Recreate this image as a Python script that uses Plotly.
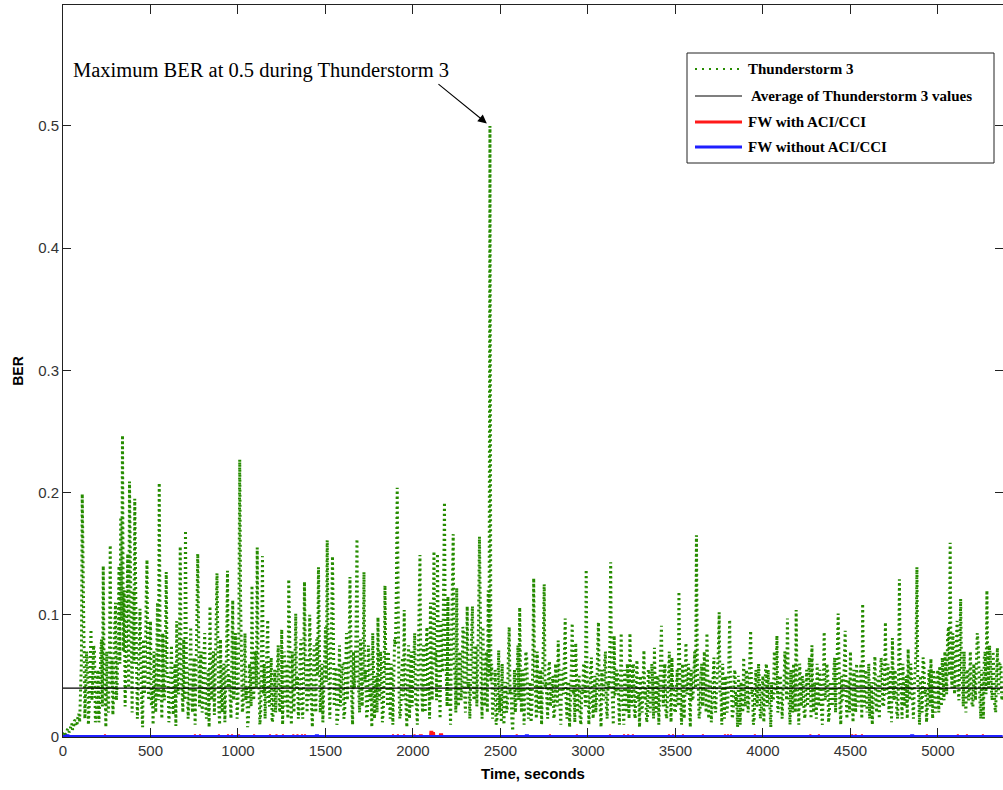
import plotly.graph_objects as go

# ---------------------------------------------------------------------------
# Data
# ---------------------------------------------------------------------------
# Thunderstorm 3 BER, one sample every 5 s, stored in units of 1e-3
time_step_s = 5
thunderstorm3_ber_milli = [
    2, 3, 4, 2, 3, 6, 7, 4, 5, 9, 11, 6, 8, 13, 14, 9, 10, 16, 19, 12,
    30, 60, 199, 120, 85, 15, 40, 70, 62, 10, 25, 55, 88, 30, 45, 75, 70, 12, 20, 50,
    55, 12, 30, 65, 80, 25, 140, 50, 40, 8, 70, 35, 20, 60, 157, 40, 65, 18, 35, 90,
    110, 30, 45, 85, 140, 60, 180, 95, 247, 70, 120, 25, 55, 100, 150, 40, 209, 130, 70, 20,
    120, 60, 195, 90, 60, 15, 35, 70, 105, 40, 25, 8, 80, 35, 50, 110, 145, 45, 30, 75,
    95, 25, 40, 10, 70, 45, 20, 60, 110, 30, 208, 75, 45, 15, 85, 35, 30, 65, 135, 50,
    50, 12, 25, 55, 75, 30, 18, 45, 60, 9, 95, 40, 35, 70, 156, 55, 40, 20, 80, 30,
    169, 60, 55, 15, 30, 75, 90, 35, 20, 50, 65, 10, 40, 95, 150, 45, 25, 60, 70, 20,
    35, 65, 85, 25, 15, 40, 55, 8, 107, 45, 30, 60, 70, 18, 45, 90, 134, 50, 25, 10,
    80, 35, 20, 55, 60, 12, 35, 75, 136, 40, 50, 20, 15, 65, 112, 30, 40, 85, 70, 15,
    30, 90, 227, 110, 60, 20, 25, 50, 85, 30, 40, 8, 15, 60, 55, 25, 124, 45, 30, 70,
    70, 40, 155, 55, 45, 10, 20, 80, 148, 35, 60, 15, 35, 70, 96, 30, 25, 50, 65, 12,
    15, 40, 55, 20, 35, 60, 75, 25, 20, 45, 88, 10, 45, 70, 25, 35, 60, 15, 129, 55,
    40, 10, 70, 35, 20, 55, 101, 40, 50, 15, 30, 65, 80, 25, 15, 45, 127, 60, 45, 20,
    65, 30, 100, 45, 25, 8, 55, 75, 35, 20, 80, 50, 139, 60, 20, 35, 60, 12, 40, 70,
    90, 45, 161, 70, 35, 15, 70, 95, 148, 40, 25, 55, 55, 10, 15, 35, 75, 25, 40, 60,
    60, 15, 20, 45, 85, 30, 45, 70, 131, 50, 30, 10, 70, 40, 50, 90, 162, 55, 35, 20,
    80, 40, 25, 60, 135, 45, 55, 15, 20, 75, 65, 30, 40, 8, 85, 50, 15, 35, 50, 20,
    98, 40, 30, 70, 60, 12, 20, 45, 124, 55, 45, 25, 70, 35, 15, 60, 55, 10, 35, 80,
    75, 120, 204, 60, 40, 15, 20, 50, 65, 30, 104, 45, 30, 8, 55, 75, 15, 40, 70, 25,
    40, 65, 85, 30, 25, 10, 60, 100, 149, 55, 35, 20, 75, 45, 20, 70, 90, 35, 45, 15,
    110, 50, 30, 85, 152, 60, 70, 30, 150, 75, 40, 15, 95, 55, 55, 120, 192, 80, 60, 25,
    115, 45, 35, 10, 80, 120, 166, 60, 50, 20, 122, 45, 25, 65, 70, 30, 40, 90, 85, 35,
    20, 55, 107, 40, 45, 15, 65, 85, 107, 35, 30, 60, 75, 25, 50, 95, 164, 60, 40, 15,
    90, 40, 25, 55, 70, 20, 120, 50, 500, 45, 60, 15, 30, 40, 55, 10, 15, 35, 71, 20,
    35, 12, 60, 30, 10, 40, 45, 20, 25, 65, 90, 35, 40, 15, 5, 30, 55, 20, 30, 50,
    75, 30, 106, 45, 20, 55, 50, 10, 35, 70, 65, 25, 15, 40, 45, 12, 25, 60, 130, 50,
    40, 15, 70, 35, 20, 50, 55, 10, 35, 75, 125, 40, 45, 20, 15, 55, 62, 25, 30, 45,
    50, 15, 20, 60, 40, 25, 79, 35, 25, 10, 55, 40, 35, 65, 97, 30, 15, 45, 45, 8,
    30, 55, 93, 35, 40, 12, 77, 30, 20, 45, 50, 15, 10, 40, 35, 60, 60, 25, 137, 45,
    45, 10, 25, 55, 65, 30, 15, 40, 50, 20, 35, 70, 94, 40, 20, 8, 55, 35, 30, 60,
    70, 25, 15, 45, 40, 75, 143, 50, 25, 10, 83, 35, 35, 55, 50, 20, 10, 40, 85, 30,
    30, 10, 55, 35, 20, 60, 45, 15, 85, 40, 25, 55, 60, 20, 15, 45, 63, 30, 35, 8,
    50, 25, 20, 45, 71, 30, 40, 12, 15, 55, 55, 20, 30, 60, 45, 15, 73, 35, 20, 50,
    50, 10, 35, 60, 91, 40, 25, 50, 60, 20, 15, 35, 45, 70, 30, 12, 65, 40, 40, 20,
    20, 45, 55, 25, 119, 50, 35, 10, 60, 30, 15, 40, 77, 35, 40, 60, 25, 8, 55, 30,
    30, 55, 70, 40, 165, 60, 45, 15, 20, 50, 60, 25, 35, 70, 50, 20, 85, 35, 15, 45,
    45, 12, 30, 55, 65, 25, 20, 40, 55, 70, 102, 35, 35, 10, 60, 30, 15, 50, 45, 20,
    30, 60, 96, 40, 40, 15, 20, 50, 55, 25, 35, 8, 50, 35, 10, 45, 40, 20, 65, 30,
    25, 55, 50, 20, 30, 65, 87, 35, 40, 10, 15, 45, 55, 25, 30, 60, 45, 15, 20, 40,
    50, 12, 35, 55, 60, 25, 55, 40, 20, 8, 45, 30, 30, 70, 65, 35, 83, 20, 25, 50,
    50, 25, 15, 40, 40, 70, 60, 30, 97, 45, 30, 10, 55, 35, 20, 60, 45, 20, 104, 40,
    35, 10, 60, 30, 25, 50, 45, 20, 15, 40, 55, 25, 35, 65, 50, 15, 75, 35, 20, 45,
    40, 15, 60, 35, 25, 55, 45, 20, 10, 40, 86, 30, 35, 60, 55, 12, 20, 45, 45, 25,
    30, 55, 65, 20, 40, 70, 101, 40, 25, 10, 50, 30, 35, 60, 87, 35, 15, 45, 45, 20,
    70, 35, 30, 12, 55, 40, 20, 60, 45, 25, 35, 50, 60, 15, 109, 45, 25, 55, 50, 20,
    35, 60, 15, 40, 45, 10, 30, 55, 66, 30, 20, 45, 50, 15, 35, 65, 60, 25, 25, 45,
    94, 35, 40, 60, 20, 45, 55, 12, 81, 40, 30, 55, 45, 20, 15, 50, 129, 40, 40, 15,
    60, 30, 25, 45, 50, 15, 72, 40, 30, 60, 45, 20, 15, 40, 55, 70, 139, 45, 35, 10,
    50, 30, 20, 65, 60, 35, 40, 12, 25, 45, 55, 25, 64, 40, 15, 55, 45, 20, 30, 50,
    55, 20, 58, 40, 25, 65, 45, 30, 70, 45, 35, 80, 90, 50, 159, 60, 40, 85, 75, 35,
    55, 80, 95, 40, 30, 65, 113, 50, 45, 25, 70, 40, 20, 55, 55, 30, 35, 70, 50, 25,
    25, 60, 45, 30, 60, 85, 77, 40, 30, 15, 55, 45, 15, 65, 70, 35, 120, 55, 40, 75,
    65, 40, 30, 70, 55, 25, 20, 50, 73, 35, 45, 60, 60, 30, 35,
]
average_ber = 0.040

# Fixed-wireless link BER: zero except for short isolated error bursts
fw_aci_burst_times = [240, 754, 783, 891, 943, 966, 1006, 1092, 1183, 1220,
                      1257, 1316, 1340, 1366, 1383, 1886, 1914, 1949, 2009,
                      2040, 2050, 2100, 2110, 2120, 2155, 2166, 2593, 2783,
                      2937, 3126, 3206, 3230, 3257, 3463, 3486, 3543, 3657,
                      3783, 3800, 3817, 3954, 4271, 4320, 4510, 4530, 4566,
                      4937, 5114, 5166, 5257]
fw_aci_burst_ber = [0.002, 0.002, 0.002, 0.002, 0.002, 0.002, 0.002, 0.002,
                    0.002, 0.002, 0.002, 0.002, 0.002, 0.002, 0.002, 0.002,
                    0.002, 0.002, 0.002, 0.002, 0.002, 0.005, 0.005, 0.004,
                    0.003, 0.003, 0.002, 0.002, 0.002, 0.002, 0.002, 0.002,
                    0.002, 0.002, 0.002, 0.002, 0.002, 0.002, 0.002, 0.002,
                    0.002, 0.002, 0.002, 0.002, 0.002, 0.002, 0.002, 0.002,
                    0.002, 0.002]
fw_noaci_burst_times = [25, 1451, 2651, 4853]
fw_noaci_burst_ber = [0.002, 0.002, 0.002, 0.002]

series_names = ["Thunderstorm 3", " Average of Thunderstorm 3 values",
                "FW with ACI/CCI", "FW without ACI/CCI"]
x_tick_values = [0, 500, 1000, 1500, 2000, 2500, 3000, 3500, 4000, 4500, 5000]
y_tick_values = [0, 0.1, 0.2, 0.3, 0.4, 0.5]

# ---------------------------------------------------------------------------
# Derived series
# ---------------------------------------------------------------------------
time_s = [i * time_step_s for i in range(len(thunderstorm3_ber_milli))]
thunderstorm3_ber = [v / 1000 for v in thunderstorm3_ber_milli]
t_end = time_s[-1]


def burst_series(times, values, half_width=3):
    xs, ys = [0], [0.0]
    for t, v in zip(times, values):
        xs += [t - half_width, t, t + half_width]
        ys += [0.0, v, 0.0]
    xs.append(t_end)
    ys.append(0.0)
    return xs, ys


red_x, red_y = burst_series(fw_aci_burst_times, fw_aci_burst_ber)
blue_x, blue_y = burst_series(fw_noaci_burst_times, fw_noaci_burst_ber)

peak_ber = max(thunderstorm3_ber)
peak_time = time_s[thunderstorm3_ber.index(peak_ber)]

GREEN = "#268c00"
RED = "#ff1a1a"
BLUE = "#1f1fff"

# ---------------------------------------------------------------------------
# Figure
# ---------------------------------------------------------------------------
W, H = 1003, 790
ML, MR, MT, MB = 63, 0, 5, 53
PW, PH = W - ML - MR, H - MT - MB


def px(xp):
    return (xp - ML) / PW


def py(yp):
    return (H - MB - yp) / PH


fig = go.Figure()
fig.add_trace(go.Scatter(x=time_s, y=thunderstorm3_ber, mode="lines",
                         name=series_names[0], showlegend=False,
                         line=dict(color=GREEN, width=3, dash="2px,3px")))
fig.add_trace(go.Scatter(x=[time_s[0], t_end], y=[average_ber, average_ber],
                         mode="lines", name=series_names[1], showlegend=False,
                         line=dict(color="black", width=1.2)))
fig.add_trace(go.Scatter(x=red_x, y=red_y, mode="lines", name=series_names[2],
                         showlegend=False, line=dict(color=RED, width=2)))
fig.add_trace(go.Scatter(x=blue_x, y=blue_y, mode="lines", name=series_names[3],
                         showlegend=False, line=dict(color=BLUE, width=4)))

tick_font = dict(family="Liberation Sans, Arial", size=15, color="#333333")
axis_common = dict(showline=True, linecolor="#222222", linewidth=1,
                   mirror="ticks", ticks="inside", tickcolor="#222222",
                   showgrid=False, zeroline=False, tickfont=tick_font)

fig.update_layout(
    width=W, height=H,
    margin=dict(l=ML, r=MR, t=MT, b=MB, pad=0),
    paper_bgcolor="white", plot_bgcolor="white",
    showlegend=False,
    xaxis=dict(range=[0, 5372], tickvals=x_tick_values, ticklen=9,
               title=dict(text="<b>Time, seconds</b>", standoff=10,
                          font=dict(family="Liberation Sans, Arial",
                                    size=15, color="black")),
               **axis_common),
    yaxis=dict(range=[0, 0.599], tickvals=y_tick_values, ticklen=8,
               title=dict(text="<b>BER</b>", standoff=11,
                          font=dict(family="Liberation Sans, Arial",
                                    size=14, color="black")),
               **axis_common),
)

# Peak annotation
fig.add_annotation(x=px(71), y=py(71), xref="paper", yref="paper",
                   xanchor="left", yanchor="middle", showarrow=False,
                   text=f"Maximum BER at {peak_ber:g} during Thunderstorm 3",
                   font=dict(family="Liberation Serif, Times New Roman",
                             size=20.5, color="black"))
fig.add_annotation(x=peak_time, y=peak_ber, xref="x", yref="y", text="",
                   showarrow=True, arrowhead=2, arrowsize=1.6,
                   arrowwidth=1.1, arrowcolor="black", standoff=4,
                   axref="pixel", ayref="pixel", ax=-53, ay=-43)

# Legend box
fig.add_shape(type="rect", xref="paper", yref="paper",
              x0=px(687), x1=px(994), y0=py(163), y1=py(53),
              line=dict(color="#222222", width=1), fillcolor="white",
              layer="above")
legend_rows = [69, 96, 122, 147]
legend_styles = [
    dict(color=GREEN, width=2, dash="2px,5px"),
    dict(color="black", width=1.2),
    dict(color=RED, width=3),
    dict(color=BLUE, width=3),
]
for name, row, style in zip(series_names, legend_rows, legend_styles):
    fig.add_shape(type="line", xref="paper", yref="paper",
                  x0=px(695), x1=px(742), y0=py(row), y1=py(row),
                  line=style, layer="above")
    fig.add_annotation(x=px(746), y=py(row), xref="paper", yref="paper",
                       xanchor="left", yanchor="middle", showarrow=False,
                       text=f"<b>{name}</b>",
                       font=dict(family="Liberation Serif, Times New Roman",
                                 size=15, color="black"))

fig.write_html("out.html")
